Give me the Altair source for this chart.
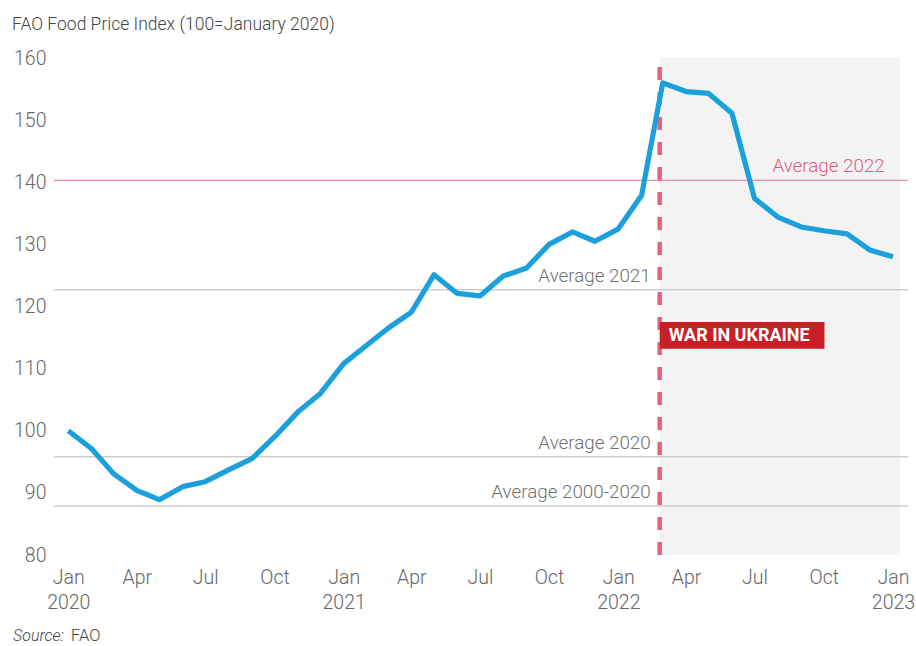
import altair as alt
import pandas as pd

# ---- data ----
months = pd.date_range("2020-01-01", "2023-01-01", freq="MS").strftime("%Y/%m/%d").tolist()
index_values = [100.0, 97.1, 93.1, 90.4, 88.9, 91.0, 91.8, 93.7, 95.5, 99.0, 103.0, 106.0,
                110.8, 113.8, 116.5, 119.1, 125.1, 122.1, 121.7, 124.9, 126.2, 130.0, 132.0, 130.5,
                132.5, 137.9, 156.0, 154.6, 154.3, 151.1, 137.4, 134.4, 132.8, 132.2, 131.7, 129.1, 128.0]

avg_names = ["Average 2000-2020", "Average 2020", "Average 2021"]
avg_values = [87.9, 95.8, 122.7]
avg2022_name = ["Average 2022"]
avg2022_value = [140.3]

war_date = "2022/02/25"
shade_end = "2023/01/10"
war_label = "WAR IN UKRAINE"
title_text = "FAO Food Price Index (100=January 2020)"

FONT = "Roboto"
LIGHT = 300
BLUE = "#1ba0dc"
PINK = "#ef8aa2"
DASH = "#e4637f"
GRAY_LINE = "#cdcdcd"
LABEL_GRAY = "#666666"

line_df = pd.DataFrame({"date": months, "value": index_values})
avg_df = pd.DataFrame({"name": avg_names, "value": avg_values, "date": [war_date] * 3})
avg22_df = pd.DataFrame({"name": avg2022_name, "value": avg2022_value, "date": [shade_end]})
shade_df = pd.DataFrame({"start": [war_date], "end": [shade_end], "y0": [80], "y1": [160]})
war_df = pd.DataFrame({"start": [war_date], "end": ["2022/10/02"], "y0": [113.2], "y1": [117.5],
                       "ymid": [115.35], "label": [war_label]})

tick_dates = [alt.DateTime(year=y, month=m, date=1)
              for y in (2020, 2021, 2022) for m in (1, 4, 7, 10)] + [alt.DateTime(year=2023, month=1, date=1)]

xscale = alt.Scale(domain=[alt.DateTime(year=2019, month=12, date=13),
                           alt.DateTime(year=2023, month=1, date=21)])
yscale = alt.Scale(domain=[80, 160], nice=False, zero=False)

x_axis = alt.Axis(values=tick_dates, title=None, grid=False, domain=False, ticks=False,
                  labelFontSize=19.5, labelColor=LABEL_GRAY, labelFont=FONT, labelFontWeight=LIGHT,
                  labelLineHeight=25, labelPadding=13, labelFlush=False, labelOverlap=False,
                  labelExpr="month(datum.value) == 0 ? [timeFormat(datum.value, '%b'), timeFormat(datum.value, '%Y')] : timeFormat(datum.value, '%b')")
y_axis = alt.Axis(values=list(range(80, 161, 10)), title=None, grid=False, domain=False, ticks=False,
                  labelFontSize=19.5, labelColor=LABEL_GRAY, labelFont=FONT, labelFontWeight=LIGHT,
                  labelPadding=8, labelFlush=False)

shade = alt.Chart(shade_df).mark_rect(color="#f3f3f3").encode(
    x=alt.X("start:T", scale=xscale, axis=x_axis),
    x2="end:T",
    y=alt.Y("y0:Q", scale=yscale, axis=y_axis),
    y2="y1:Q",
)

avg_rules = alt.Chart(avg_df).mark_rule(color=GRAY_LINE, strokeWidth=1.5).encode(
    y=alt.Y("value:Q", scale=yscale)
)
avg22_rule = alt.Chart(avg22_df).mark_rule(color=PINK, strokeWidth=1.3).encode(
    y=alt.Y("value:Q", scale=yscale)
)

avg_text = alt.Chart(avg_df).mark_text(align="right", baseline="alphabetic", dx=-9, dy=-8,
                                        fontSize=18.8, font=FONT, fontWeight=LIGHT,
                                        color="#707070").encode(
    x=alt.X("date:T", scale=xscale), y=alt.Y("value:Q", scale=yscale), text="name:N"
)
avg22_text = alt.Chart(avg22_df).mark_text(align="right", baseline="alphabetic", dx=-15, dy=-8,
                                            fontSize=18.8, font=FONT, fontWeight=LIGHT,
                                            color="#e8567c").encode(
    x=alt.X("date:T", scale=xscale), y=alt.Y("value:Q", scale=yscale), text="name:N"
)

war_rule = alt.Chart(shade_df).mark_rule(color=DASH, strokeWidth=4.5, strokeDash=[13, 12]).encode(
    x=alt.X("start:T", scale=xscale),
    y=alt.Y("y0:Q", scale=yscale),
    y2="y1:Q",
)

line = alt.Chart(line_df).mark_line(color=BLUE, strokeWidth=5.2, strokeJoin="round").encode(
    x=alt.X("date:T", scale=xscale),
    y=alt.Y("value:Q", scale=yscale),
)

war_box = alt.Chart(war_df).mark_rect(color="#c71f26").encode(
    x=alt.X("start:T", scale=xscale), x2="end:T",
    y=alt.Y("y0:Q", scale=yscale), y2="y1:Q",
)
war_text = alt.Chart(war_df).mark_text(align="left", baseline="middle", dx=9, dy=1,
                                        fontSize=18, fontWeight="bold", font=FONT,
                                        color="white").encode(
    x=alt.X("start:T", scale=xscale), y=alt.Y("ymid:Q", scale=yscale), text="label:N"
)

title = alt.Chart(pd.DataFrame({"t": [title_text]})).mark_text(
    align="left", baseline="middle", fontSize=17.5, font=FONT, fontWeight=LIGHT, color="#444444"
).encode(text="t:N", x=alt.value(-42), y=alt.value(-33))

source1 = alt.Chart(pd.DataFrame({"t": ["Source:"]})).mark_text(
    align="left", baseline="middle", fontSize=16, font=FONT, fontWeight=LIGHT,
    fontStyle="italic", color="#444444"
).encode(text="t:N", x=alt.value(-41), y=alt.value(578))
source2 = alt.Chart(pd.DataFrame({"t": ["FAO"]})).mark_text(
    align="left", baseline="middle", fontSize=16.5, font=FONT, fontWeight=LIGHT, color="#444444"
).encode(text="t:N", x=alt.value(17), y=alt.value(578))

chart = alt.layer(
    shade, avg_rules, avg22_rule, avg_text, avg22_text, war_rule, line,
    war_box, war_text, title, source1, source2
).properties(
    width=854, height=497,
    autosize=alt.AutoSizeParams(type="none"),
    padding={"left": 54, "top": 58, "right": 8, "bottom": 91},
    background="white",
).configure_view(stroke=None)

chart.save("out.html", embed_options={"renderer": "svg", "actions": False})
